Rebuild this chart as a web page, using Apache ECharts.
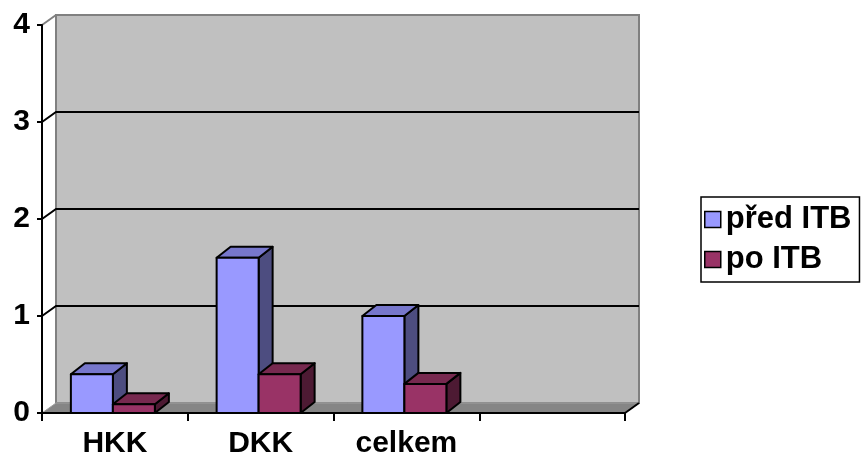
<!DOCTYPE html>
<html>
<head>
<meta charset="utf-8">
<script src="https://cdn.jsdelivr.net/npm/echarts@6/dist/echarts.min.js"></script>
<style>
  html, body { margin: 0; padding: 0; background: #fff; }
  #chart { width: 864px; height: 459px; }
</style>
</head>
<body>
<div id="chart"></div>
<script>
// data
var categories = ['HKK', 'DKK', 'celkem', ''];
var predITB = [0.4, 1.6, 1.0];
var poITB = [0.09, 0.4, 0.3];
var yTicks = [0, 1, 2, 3, 4];

var FONT = 'Liberation Sans, Arial, sans-serif';
var WALL_DX = 14, WALL_DY = -10;   // back wall offset
var BAR_DX = 14, BAR_DY = -11;     // bar depth
var BAR_W = 42;

var chart = echarts.init(document.getElementById('chart'));

// back wall, floor and gridlines
function renderWall(params, api) {
  var band = api.size([1, 0])[0];
  var L = api.coord([0, 0])[0] - band / 2;
  var R = api.coord([categories.length - 1, 0])[0] + band / 2;
  var y0 = api.coord([0, 0])[1];
  var yTop = api.coord([0, 4])[1];
  var children = [];
  children.push({
    type: 'polygon',
    shape: { points: [[L + WALL_DX, yTop + WALL_DY], [R + WALL_DX, yTop + WALL_DY], [R + WALL_DX, y0 + WALL_DY], [L + WALL_DX, y0 + WALL_DY]] },
    style: { fill: '#c0c0c0', stroke: '#808080', lineWidth: 2 }
  });
  children.push({
    type: 'polygon',
    shape: { points: [[L, y0], [R, y0], [R + WALL_DX, y0 + WALL_DY], [L + WALL_DX, y0 + WALL_DY]] },
    style: { fill: '#858585', stroke: '#a0a0a0', lineWidth: 1 }
  });
  children.push({
    type: 'line',
    shape: { x1: L, y1: yTop, x2: L + WALL_DX, y2: yTop + WALL_DY },
    style: { stroke: '#808080', lineWidth: 2 }
  });
  yTicks.forEach(function (v) {
    if (v === 0 || v === 4) return;
    var y = api.coord([0, v])[1];
    children.push({
      type: 'polyline',
      shape: { points: [[L, y], [L + WALL_DX, y + WALL_DY], [R + WALL_DX, y + WALL_DY]] },
      style: { stroke: '#000', lineWidth: 2, fill: null }
    });
  });
  children.push({
    type: 'line',
    shape: { x1: R, y1: y0, x2: R + WALL_DX, y2: y0 + WALL_DY },
    style: { stroke: '#000', lineWidth: 2 }
  });
  return { type: 'group', children: children };
}

function makeBarRenderer(shift, colors) {
  return function (params, api) {
    var cx = api.coord([api.value(0), 0])[0];
    var yb = api.coord([api.value(0), 0])[1];
    var yt = api.coord([api.value(0), api.value(1)])[1];
    var x0 = cx - 2 + shift;
    var x1 = x0 + BAR_W;
    var border = { stroke: '#000', lineWidth: 2, lineJoin: 'round' };
    return {
      type: 'group',
      children: [
        {
          type: 'polygon',
          shape: { points: [[x1, yt], [x1 + BAR_DX, yt + BAR_DY], [x1 + BAR_DX, yb + BAR_DY], [x1, yb]] },
          style: Object.assign({ fill: colors[2] }, border)
        },
        {
          type: 'polygon',
          shape: { points: [[x0, yt], [x1, yt], [x1 + BAR_DX, yt + BAR_DY], [x0 + BAR_DX, yt + BAR_DY]] },
          style: Object.assign({ fill: colors[1] }, border)
        },
        {
          type: 'rect',
          shape: { x: x0, y: yt, width: BAR_W, height: yb - yt },
          style: Object.assign({ fill: colors[0] }, border)
        }
      ]
    };
  };
}

var option = {
  animation: false,
  backgroundColor: '#fff',
  grid: { left: 42, right: 239, top: 25, bottom: 46 },
  legend: {
    orient: 'vertical',
    left: 701,
    top: 197,
    padding: [7, 8, 7, 3],
    itemWidth: 16,
    itemHeight: 16,
    itemGap: 9,
    borderColor: '#000',
    borderWidth: 1.5,
    textStyle: { fontFamily: FONT, fontWeight: 'bold', fontSize: 31, color: '#000' },
    data: [
      { name: 'před ITB', icon: 'rect', itemStyle: { color: '#9999ff', borderColor: '#000', borderWidth: 1.5 } },
      { name: 'po ITB', icon: 'rect', itemStyle: { color: '#993366', borderColor: '#000', borderWidth: 1.5 } }
    ]
  },
  xAxis: {
    type: 'category',
    data: categories,
    axisLine: { lineStyle: { color: '#000', width: 2 } },
    axisTick: { show: true, length: 8, lineStyle: { color: '#000', width: 2 } },
    axisLabel: { fontFamily: FONT, fontWeight: 'bold', fontSize: 30, color: '#000', margin: 16 },
    splitLine: { show: false }
  },
  yAxis: {
    type: 'value',
    min: 0,
    max: 4,
    interval: 1,
    axisLine: { show: true, lineStyle: { color: '#000', width: 2 } },
    axisTick: { show: true, length: 5, lineStyle: { color: '#000', width: 2 } },
    axisLabel: { fontFamily: FONT, fontWeight: 'bold', fontSize: 30, color: '#000', margin: 12 },
    splitLine: { show: false }
  },
  series: [
    {
      name: 'wall',
      type: 'custom',
      z: 0,
      silent: true,
      renderItem: renderWall,
      data: [[0, 0]]
    },
    {
      name: 'před ITB',
      type: 'custom',
      z: 2,
      itemStyle: { color: '#9999ff' },
      renderItem: makeBarRenderer(-BAR_W, ['#9999ff', '#7777cc', '#4d4d80']),
      encode: { x: 0, y: 1 },
      data: predITB.map(function (v, i) { return [i, v]; })
    },
    {
      name: 'po ITB',
      type: 'custom',
      z: 3,
      itemStyle: { color: '#993366' },
      renderItem: makeBarRenderer(0, ['#993366', '#77294f', '#4d1a33']),
      encode: { x: 0, y: 1 },
      data: poITB.map(function (v, i) { return [i, v]; })
    }
  ]
};

chart.setOption(option);
</script>
</body>
</html>
